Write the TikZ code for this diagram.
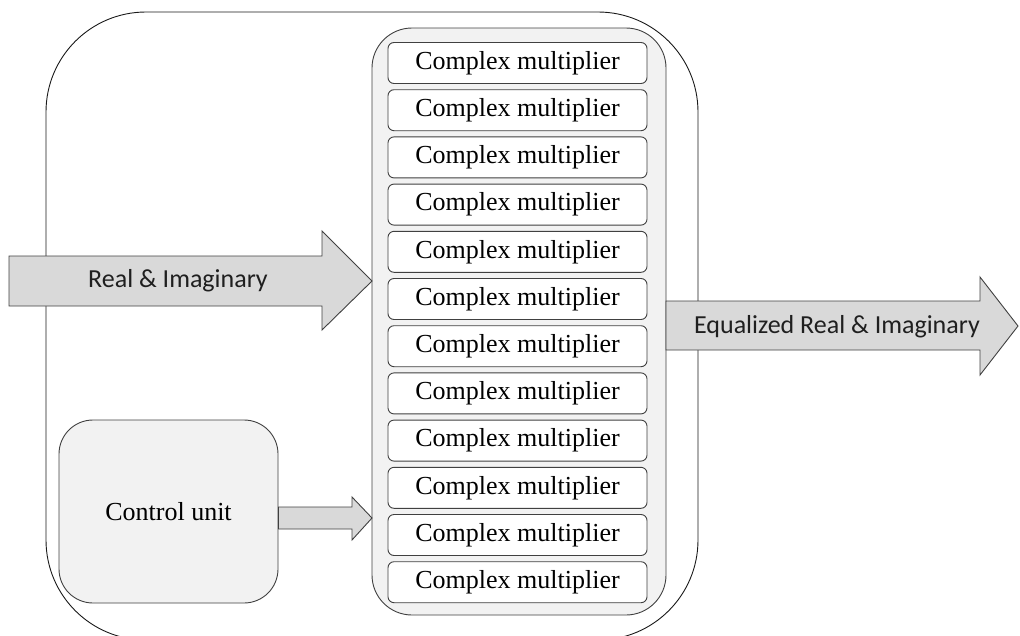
\documentclass[tikz,border=0pt]{standalone}
\usepackage{fontspec}
\setmainfont{Liberation Serif}
\newfontfamily\calfont{Carlito}
\begin{document}
\begin{tikzpicture}[x=1pt,y=-1pt,
  box/.style={draw=black!75, line width=0.9pt, fill=white, rounded corners=6pt,
    minimum width=259pt, minimum height=41pt, inner sep=0pt,
    font=\fontsize{26}{30}\selectfont},
  bank/.style={draw=black!75, line width=0.9pt, fill=black!5, rounded corners=40pt},
  ctrl/.style={draw=black!75, line width=0.9pt, fill=black!5, rounded corners=34pt,
    minimum width=219pt, minimum height=183pt, inner sep=0pt,
    font=\fontsize{26}{30}\selectfont},
  blockarrow/.style={draw=black!75, line width=0.9pt, fill=black!15, line join=miter},
  arrowtext/.style={font=\calfont\fontsize{26}{30}\selectfont, text=black!88, inner sep=0pt}]
\useasboundingbox (0,0) rectangle (1020,635);
\clip (0,0) rectangle (1020,635);

% control unit
\node[ctrl] (ctrl) at (168.5,511.5) {Control unit};

% enclosing outline
\draw[black!90, line width=0.9pt, rounded corners=100pt] (46,12) rectangle (698,640);

% multiplier bank
\coordinate (bankNW) at (372,28);
\coordinate (bankSE) at (666,615);
\draw[bank] (bankNW) rectangle (bankSE);
\foreach \i in {0,...,11}{
  \node[box] (m\i) at (517.5,{63+47.2*\i}) {Complex multiplier};
}

% input arrow
\coordinate (inTip) at (bankNW |- 0,281);
\draw[blockarrow] (9,256) -- (322,256) -- (322,231) -- (inTip) -- (322,330) -- (322,306) -- (9,306) -- cycle;
\node[arrowtext] (inLbl) at (178,281) {Real \& Imaginary};

% output arrow
\coordinate (outBase) at (bankSE |- 0,326);
\draw[blockarrow] (outBase |- 0,301) -- (980,301) -- (980,277) -- (1018,326) -- (980,375) -- (980,350) -- (outBase |- 0,350) -- cycle;
\node[arrowtext] (outLbl) at (837,327) {Equalized Real \& Imaginary};

% control arrow
\coordinate (cTip) at (bankNW |- 0,518);
\draw[blockarrow] (ctrl.east |- 0,507) -- (352,507) -- (352,497) -- (cTip) -- (352,540) -- (352,529) -- (ctrl.east |- 0,529) -- cycle;
\end{tikzpicture}
\end{document}
